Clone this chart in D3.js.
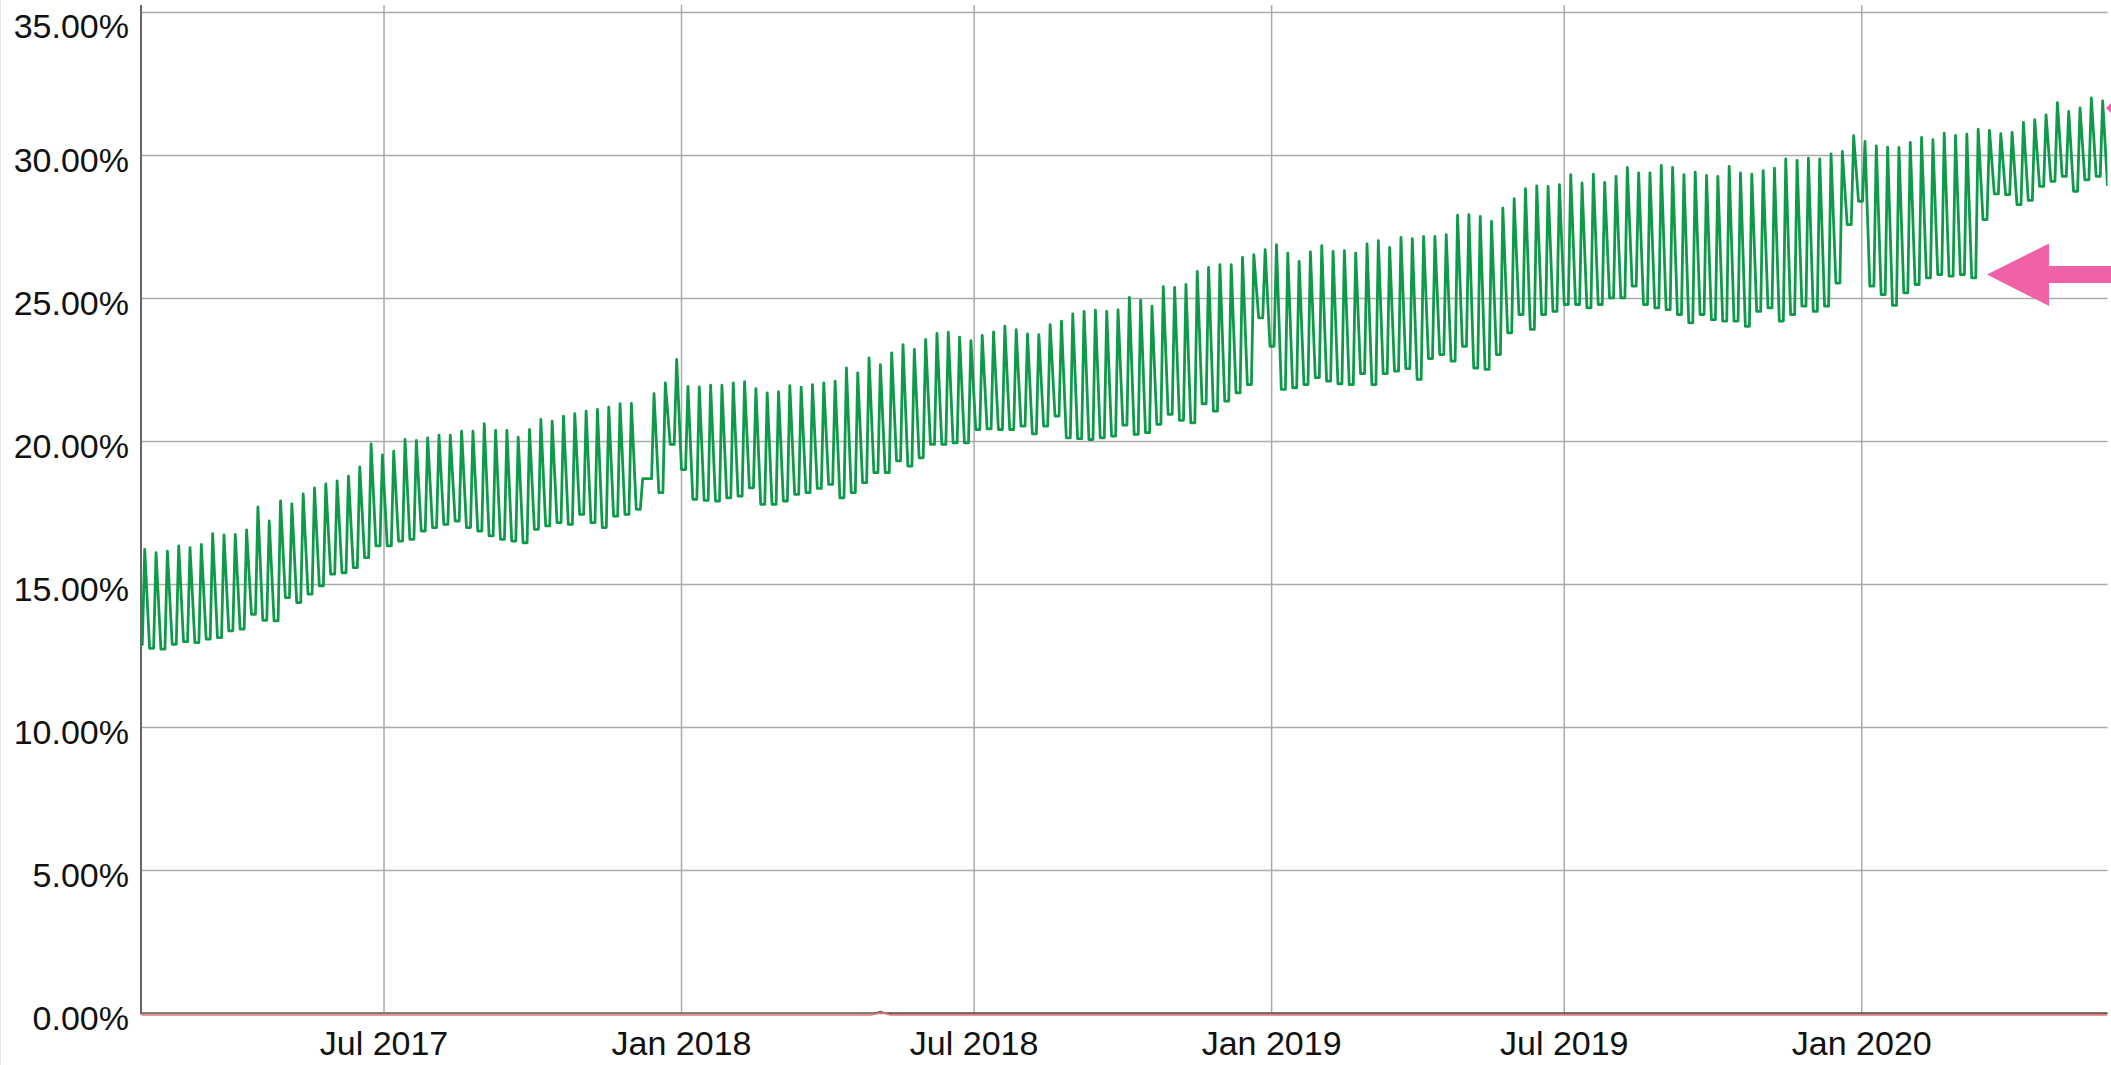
<!DOCTYPE html>
<html>
<head>
<meta charset="utf-8">
<script src="https://cdn.jsdelivr.net/npm/d3@7"></script>
<style>
  html, body { margin: 0; padding: 0; background: #fff; overflow: hidden; }
  svg text { font-family: "Liberation Sans", Arial, Helvetica, sans-serif; fill: #111; }
</style>
</head>
<body>
<svg id="chart" width="2111" height="1065"></svg>
<script>
// weekly turning points, in percent
var firstPeak = "2017-02-03"; // first weekend spike, then one every 7 days
var peakVals = [
  16.23, 16.11, 16.17, 16.35, 16.29, 16.40, 16.78, 16.73, 16.75, 16.91,
  17.71, 17.22, 17.92, 17.82, 18.17, 18.38, 18.52, 18.62, 18.79, 19.11,
  19.92, 19.53, 19.66, 20.07, 20.04, 20.13, 20.22, 20.22, 20.36, 20.36,
  20.62, 20.39, 20.39, 20.15, 20.42, 20.77, 20.71, 20.89, 20.97, 21.06,
  21.12, 21.20, 21.32, 21.33, 18.70, 21.67, 22.05, 22.87, 21.93, 21.91,
  21.97, 21.97, 22.05, 22.09, 21.85, 21.70, 21.74, 21.95, 21.90, 21.99,
  22.05, 22.11, 22.57, 22.40, 22.92, 22.69, 23.10, 23.39, 23.22, 23.57,
  23.78, 23.82, 23.65, 23.53, 23.71, 23.83, 24.03, 23.91, 23.76, 23.74,
  24.09, 24.21, 24.46, 24.55, 24.59, 24.55, 24.60, 25.04, 24.94, 24.73,
  25.41, 25.39, 25.49, 25.95, 26.09, 26.18, 26.18, 26.44, 26.53, 26.71,
  26.88, 26.59, 26.30, 26.63, 26.85, 26.65, 26.67, 26.59, 26.91, 27.02,
  26.79, 27.14, 27.09, 27.17, 27.17, 27.23, 27.91, 27.93, 27.87, 27.70,
  28.16, 28.49, 28.84, 28.94, 28.92, 28.98, 29.33, 29.04, 29.35, 29.06,
  29.27, 29.58, 29.39, 29.39, 29.65, 29.58, 29.33, 29.42, 29.30, 29.27,
  29.62, 29.39, 29.35, 29.47, 29.56, 29.88, 29.83, 29.91, 29.88, 30.06,
  30.14, 30.69, 30.49, 30.34, 30.29, 30.28, 30.46, 30.63, 30.55, 30.78,
  30.70, 30.75, 30.92, 30.88, 30.76, 30.81, 31.16, 31.25, 31.42, 31.85,
  31.54, 31.66, 32.01, 31.91
];
// weekday level before each spike (last one is after the final spike)
var lowVals = [
  12.90, 12.77, 12.74, 12.91, 13.00, 12.97, 13.09, 13.14, 13.38, 13.44,
  13.96, 13.75, 13.73, 14.54, 14.37, 14.66, 14.95, 15.36, 15.41, 15.59,
  15.94, 16.35, 16.35, 16.52, 16.58, 16.87, 16.99, 17.10, 17.22, 16.99,
  16.87, 16.70, 16.58, 16.52, 16.46, 16.93, 17.05, 17.16, 17.10, 17.45,
  17.16, 16.99, 17.39, 17.45, 17.63, 18.70, 18.21, 19.90, 19.02, 17.98,
  17.94, 17.92, 18.03, 18.09, 18.38, 17.80, 17.80, 17.92, 18.15, 18.21,
  18.36, 18.50, 18.03, 18.21, 18.56, 18.91, 18.91, 19.32, 19.14, 19.43,
  19.90, 19.90, 19.95, 19.95, 20.42, 20.44, 20.42, 20.42, 20.54, 20.27,
  20.54, 20.89, 20.13, 20.10, 20.07, 20.13, 20.19, 20.57, 20.25, 20.31,
  20.60, 20.95, 20.74, 20.65, 21.32, 21.06, 21.41, 21.70, 21.99, 24.32,
  23.33, 21.82, 21.88, 21.99, 22.23, 22.11, 22.02, 21.99, 22.37, 21.99,
  22.37, 22.46, 22.55, 22.17, 22.90, 23.04, 22.81, 23.33, 22.57, 22.52,
  23.04, 23.80, 24.44, 23.92, 24.44, 24.55, 24.79, 24.79, 24.67, 24.79,
  25.02, 25.02, 25.43, 24.79, 24.67, 24.61, 24.44, 24.15, 24.44, 24.26,
  24.21, 24.21, 24.03, 24.55, 24.67, 24.21, 24.44, 24.73, 24.55, 24.73,
  25.54, 27.58, 28.40, 25.43, 25.14, 24.76, 25.20, 25.49, 25.72, 25.84,
  25.78, 25.84, 25.72, 27.76, 28.66, 28.63, 28.28, 28.43, 28.92, 29.10,
  29.27, 28.75, 29.15, 29.27, 28.94
];
// second series, sits on zero with a tiny bump in spring 2018
var redDates = ["2017-02-01", "2018-04-28", "2018-05-02", "2018-05-06", "2018-05-10", "2020-06-01"];
var redVals  = [0, 0, 0.05, 0.08, 0, 0];
var grayDates = ["2018-04-30", "2018-05-04", "2018-05-08", "2020-06-01"];
var grayVals  = [0, 0.07, 0, 0];
var yTicks = [0, 5, 10, 15, 20, 25, 30, 35];
var xStart = "2017-02-01", xEnd = "2020-06-01";

var svg = d3.select("#chart");
var plotLeft = 141.5, plotRight = 2107.5, plotTop = 5, plotBottom = 1013.5;
var DAY = 864e5;
var parse = d3.utcParse("%Y-%m-%d");

var x = d3.scaleUtc()
    .domain([parse(xStart), parse(xEnd)])
    .range([plotLeft, plotRight]);
var y = d3.scaleLinear()
    .domain([0, 35])
    .range([plotBottom, 12.5]);

// weekly shape: three-day fall from the spike, short weekday floor, quick rise
var p0 = +parse(firstPeak);
var green = [];
peakVals.forEach(function(v, i) {
    var t = p0 + i * 7 * DAY;
    green.push({d: new Date(t - 4 * DAY), v: lowVals[i]});
    green.push({d: new Date(t - 1.5 * DAY), v: lowVals[i]});
    green.push({d: new Date(t), v: v});
});
var tNext = p0 + peakVals.length * 7 * DAY;
green.push({d: new Date(tNext - 4 * DAY), v: lowVals[peakVals.length]});

var red = redDates.map(function(d, i) { return {d: parse(d), v: redVals[i]}; });
var gray = grayDates.map(function(d, i) { return {d: parse(d), v: grayVals[i]}; });

// faint page border on the far left
svg.append("line")
    .attr("x1", 0.5).attr("x2", 0.5).attr("y1", 0).attr("y2", 1065)
    .attr("stroke", "#e6e6e6").attr("stroke-width", 1);

// horizontal grid
svg.append("g").selectAll("line")
    .data(yTicks)
    .enter().append("line")
    .attr("x1", plotLeft).attr("x2", plotRight)
    .attr("y1", function(d) { return y(d); })
    .attr("y2", function(d) { return y(d); })
    .attr("stroke", "#aaa").attr("stroke-width", 1.5);

// vertical grid
var xTicks = x.ticks(d3.utcMonth.every(6));
svg.append("g").selectAll("line")
    .data(xTicks)
    .enter().append("line")
    .attr("x1", function(d) { return x(d); })
    .attr("x2", function(d) { return x(d); })
    .attr("y1", plotTop).attr("y2", plotBottom)
    .attr("stroke", "#aaa").attr("stroke-width", 1.5);

// y labels
svg.append("g").selectAll("text")
    .data(yTicks)
    .enter().append("text")
    .attr("x", 129)
    .attr("y", function(d) { return Math.max(y(d) + 16.5, 37.5); })
    .attr("text-anchor", "end")
    .style("font-size", "34px")
    .text(function(d) { return d3.format(".2f")(d) + "%"; });

// x labels
svg.append("g").selectAll("text")
    .data(xTicks)
    .enter().append("text")
    .attr("x", function(d) { return x(d); })
    .attr("y", 1055)
    .attr("text-anchor", "middle")
    .style("font-size", "34px")
    .text(d3.utcFormat("%b %Y"));

// axes
svg.append("line")
    .attr("x1", 141).attr("x2", 141).attr("y1", plotTop).attr("y2", plotBottom + 1)
    .attr("stroke", "#666").attr("stroke-width", 2);
svg.append("line")
    .attr("x1", plotLeft).attr("x2", plotRight)
    .attr("y1", plotBottom - 0.5).attr("y2", plotBottom - 0.5)
    .attr("stroke", "#666").attr("stroke-width", 1.5);

svg.append("clipPath").attr("id", "plot")
    .append("rect")
    .attr("x", plotLeft).attr("y", plotTop)
    .attr("width", plotRight - plotLeft).attr("height", plotBottom - plotTop + 4);

var line = d3.line()
    .x(function(d) { return x(d.d); })
    .y(function(d) { return y(d.v); });

var plot = svg.append("g").attr("clip-path", "url(#plot)");

plot.append("path")
    .datum(gray)
    .attr("d", line)
    .attr("fill", "none")
    .attr("stroke", "#6b5a55")
    .attr("stroke-width", 1.5);

plot.append("path")
    .datum(red)
    .attr("transform", "translate(0,1.5)")
    .attr("d", line)
    .attr("fill", "none")
    .attr("stroke", "#e57373")
    .attr("stroke-width", 1.5);

plot.append("path")
    .datum(green)
    .attr("d", line)
    .attr("fill", "none")
    .attr("stroke", "#0f9a4a")
    .attr("stroke-width", 2.8)
    .attr("stroke-linejoin", "round");

// pink callout arrows
var arrow = svg.append("g").attr("fill", "#ef62a8");
arrow.append("path")
    .attr("d", "M1987,274.5 L2049,243.5 L2049,266 L2111,266 L2111,283 L2049,283 L2049,306 Z");
arrow.append("path")
    .attr("d", "M2106,108 L2111,103 L2111,113 Z");
</script>
</body>
</html>
